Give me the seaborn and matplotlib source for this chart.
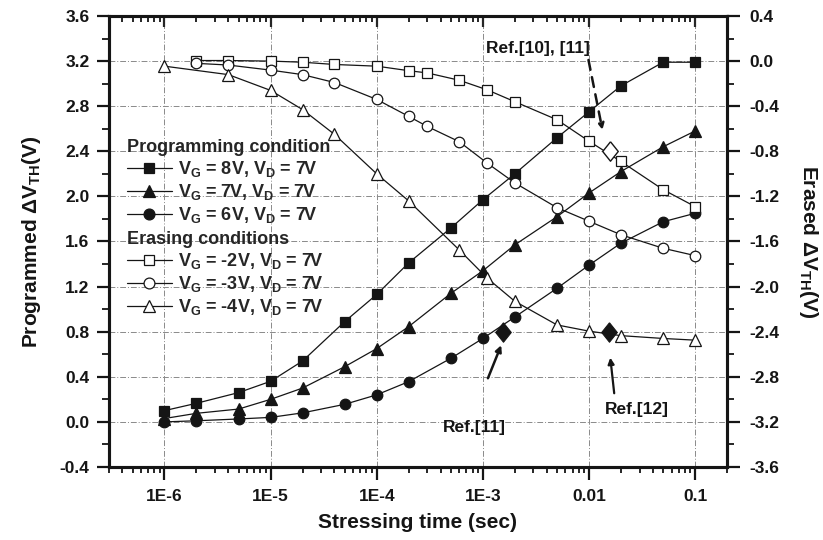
import numpy as np
import pandas as pd
import matplotlib
matplotlib.use("Agg")
import matplotlib.pyplot as plt
from matplotlib.lines import Line2D
from matplotlib.ticker import FixedLocator, LogLocator, MultipleLocator, FormatStrFormatter, NullFormatter
import seaborn as sns

# ---- data -------------------------------------------------------------
t_prog = [1e-6, 2e-6, 5e-6, 1e-5, 2e-5, 5e-5, 1e-4, 2e-4, 5e-4,
          1e-3, 2e-3, 5e-3, 1e-2, 2e-2, 5e-2, 1e-1]
prog_vg8 = [0.10, 0.165, 0.26, 0.36, 0.54, 0.89, 1.13, 1.41, 1.72,
            1.97, 2.20, 2.52, 2.75, 2.98, 3.19, 3.19]
prog_vg7 = [0.03, 0.076, 0.114, 0.20, 0.30, 0.49, 0.65, 0.845, 1.14,
            1.34, 1.57, 1.82, 2.03, 2.22, 2.44, 2.58]
prog_vg6 = [0.0, 0.01, 0.026, 0.04, 0.08, 0.156, 0.24, 0.357, 0.564,
            0.74, 0.93, 1.185, 1.39, 1.585, 1.775, 1.85]

t_erase = [2e-6, 4e-6, 1e-5, 2e-5, 4e-5, 1e-4, 2e-4, 3e-4, 6e-4,
           1.1e-3, 2e-3, 5e-3, 1e-2, 2e-2, 5e-2, 1e-1]
erase_vgm2 = [0.005, 0.005, 0.0, -0.01, -0.03, -0.045, -0.085, -0.105, -0.17,
              -0.255, -0.36, -0.52, -0.71, -0.89, -1.14, -1.29]
erase_vgm3 = [-0.02, -0.035, -0.08, -0.12, -0.19, -0.34, -0.49, -0.58, -0.715,
              -0.905, -1.08, -1.30, -1.42, -1.54, -1.66, -1.725]

t_erase4 = [1e-6, 4e-6, 1e-5, 2e-5, 4e-5, 1e-4, 2e-4, 6e-4,
            1.1e-3, 2e-3, 5e-3, 1e-2, 2e-2, 5e-2, 1e-1]
erase_vgm4 = [-0.045, -0.12, -0.26, -0.43, -0.65, -1.0, -1.24, -1.675,
              -1.925, -2.13, -2.34, -2.395, -2.435, -2.46, -2.475]

# literature reference points
ref_prog_t = [1.55e-3, 0.0156]      # Ref.[11], Ref.[12] (programmed)
ref_prog_v = [0.8, 0.8]
ref_erase_t = [0.0159]              # Ref.[10], [11] (erased)
ref_erase_v = [-0.8]

x_ticks = [1e-6, 1e-5, 1e-4, 1e-3, 1e-2, 1e-1]
x_tick_labels = ["1E-6", "1E-5", "1E-4", "1E-3", "0.01", "0.1"]

prog_labels = ["V$_{G}$ = 8V, V$_{D}$ = 7V",
               "V$_{G}$ = 7V, V$_{D}$ = 7V",
               "V$_{G}$ = 6V, V$_{D}$ = 7V"]
erase_labels = ["V$_{G}$ = -2V, V$_{D}$ = 7V",
                "V$_{G}$ = -3V, V$_{D}$ = 7V",
                "V$_{G}$ = -4V, V$_{D}$ = 7V"]

# ---- style --------------------------------------------------------------
sns.set_style("white")
plt.rcParams["font.family"] = ["Liberation Sans", "DejaVu Sans"]
plt.rcParams["font.weight"] = "bold"
plt.rcParams["axes.unicode_minus"] = False
plt.rcParams["mathtext.fontset"] = "custom"
plt.rcParams["mathtext.rm"] = "Liberation Sans:bold"
plt.rcParams["mathtext.bf"] = "Liberation Sans:bold"
plt.rcParams["mathtext.it"] = "Liberation Sans:bold"
plt.rcParams["mathtext.default"] = "bf"

INK = "#151515"
LINE_W = 0.9
EDGE_W = 0.9

fig = plt.figure(figsize=(8.23, 5.40), dpi=100)
ax = fig.add_axes([0.13244, 0.13519, 0.75091, 0.83519])
ax.set_xscale("log")
ax2 = ax.twinx()

def series(axis, x, y, marker, filled, ms):
    sns.lineplot(x=x, y=y, ax=axis, color=INK, lw=LINE_W, marker=marker,
                 markersize=ms, markeredgecolor=INK, markeredgewidth=EDGE_W,
                 markerfacecolor=INK if filled else "white",
                 legend=False, estimator=None, sort=False, zorder=3)

series(ax, t_prog, prog_vg8, "s", True, 6.8)
series(ax, t_prog, prog_vg7, "^", True, 8.5)
series(ax, t_prog, prog_vg6, "o", True, 7.6)
series(ax2, t_erase, erase_vgm2, "s", False, 6.8)
series(ax2, t_erase, erase_vgm3, "o", False, 7.6)
series(ax2, t_erase4, erase_vgm4, "^", False, 8.5)

diamond = [(0, 1), (0.8, 0), (0, -1), (-0.8, 0), (0, 1)]
sns.scatterplot(x=ref_prog_t, y=ref_prog_v, ax=ax, marker=diamond, s=14**2,
                color=INK, edgecolor=INK, linewidth=0.8, zorder=5)
sns.scatterplot(x=ref_erase_t, y=ref_erase_v, ax=ax2, marker=diamond, s=14**2,
                facecolor="white", edgecolor=INK, linewidth=1.0, zorder=5)

# ---- axes limits and ticks ---------------------------------------------
ax.set_xlim(3e-7, 0.2)
ax.set_ylim(-0.4, 3.6)
ax2.set_ylim(-3.6, 0.4)

ax.xaxis.set_major_locator(FixedLocator(x_ticks))
ax.set_xticklabels(x_tick_labels)
ax.xaxis.set_minor_locator(LogLocator(base=10, subs=np.arange(2, 10), numticks=100))
ax.xaxis.set_minor_formatter(NullFormatter())

ax.yaxis.set_major_locator(MultipleLocator(0.4))
ax.yaxis.set_minor_locator(MultipleLocator(0.2))
ax.yaxis.set_major_formatter(FormatStrFormatter("%.1f"))
ax2.yaxis.set_major_locator(MultipleLocator(0.4))
ax2.yaxis.set_minor_locator(MultipleLocator(0.2))
ax2.yaxis.set_major_formatter(FormatStrFormatter("%.1f"))

tick_font = 12.5
ax.xaxis.set_ticks_position("bottom")
ax.tick_params(axis="x", which="major", direction="out", length=9, width=1.6,
               labelsize=tick_font, pad=7, colors=INK)
ax.tick_params(axis="x", which="minor", direction="out", length=4.5, width=1.4)
ax.tick_params(axis="y", which="major", direction="out", length=9, width=1.6,
               labelsize=tick_font, pad=5, left=True, right=False, colors=INK)
ax.tick_params(axis="y", which="minor", direction="out", length=5, width=1.4,
               left=True, right=False)
ax2.tick_params(axis="y", which="major", direction="out", length=9, width=1.6,
                labelsize=tick_font, pad=7, colors=INK)
ax2.tick_params(axis="y", which="minor", direction="out", length=5, width=1.4)

# inward ticks along the top edge
ax2.xaxis.set_visible(True)
ax2.xaxis.set_ticks_position("top")
ax2.tick_params(axis="x", which="major", direction="in", length=8, width=1.6,
                labeltop=False, labelbottom=False)
ax2.tick_params(axis="x", which="minor", direction="in", length=4.5, width=1.4,
                labeltop=False, labelbottom=False)

for a in (ax, ax2):
    for sp in a.spines.values():
        sp.set_linewidth(2.2)
        sp.set_color(INK)

ax.grid(True, which="major", axis="both", linestyle=(0, (6, 2, 1, 2)),
        color="#8a8a8a", linewidth=0.7)
ax.set_axisbelow(True)

ax.set_xlabel("Stressing time (sec)", fontsize=15, fontweight="bold",
              labelpad=6, color=INK)
ax.set_ylabel("Programmed ΔV$_{TH}$(V)", fontsize=15, fontweight="bold",
              labelpad=12, color=INK)
ax2.set_ylabel("Erased ΔV$_{TH}$(V)", fontsize=15, fontweight="bold",
               rotation=270, va="bottom", labelpad=13, color=INK)

# ---- reference annotations ---------------------------------------------
ax.annotate("", xy=(0.0134, 2.59), xytext=(0.0099, 3.21),
            arrowprops=dict(arrowstyle="-|>", color=INK, lw=1.8,
                            linestyle=(0, (4, 3)), mutation_scale=9,
                            shrinkA=0, shrinkB=0), zorder=6)
ax.text(0.0102, 3.316, "Ref.[10], [11]", ha="right", va="center",
        fontsize=12.5, fontweight="bold", color=INK)

ax.annotate("", xy=(1.49e-3, 0.68), xytext=(1.117e-3, 0.387),
            arrowprops=dict(arrowstyle="-|>", color=INK, lw=1.8,
                            mutation_scale=9, shrinkA=0, shrinkB=0), zorder=6)
ax.text(8.4e-4, -0.054, "Ref.[11]", ha="center", va="center",
        fontsize=12.5, fontweight="bold", color=INK)

ax.annotate("", xy=(0.0159, 0.57), xytext=(0.0173, 0.254),
            arrowprops=dict(arrowstyle="-|>", color=INK, lw=1.6,
                            mutation_scale=9, shrinkA=0, shrinkB=0), zorder=6)
ax.text(0.0282, 0.114, "Ref.[12]", ha="center", va="center",
        fontsize=12.5, fontweight="bold", color=INK)

# ---- legends ------------------------------------------------------------
def handle(marker, filled, ms):
    return Line2D([], [], color=INK, lw=LINE_W, marker=marker, markersize=ms,
                  markeredgecolor=INK, markeredgewidth=EDGE_W,
                  markerfacecolor=INK if filled else "white")

prog_handles = [handle("s", True, 7.2), handle("^", True, 8.5), handle("o", True, 7.8)]
erase_handles = [handle("s", False, 7.2), handle("o", False, 7.8), handle("^", False, 8.5)]

leg_kw = dict(loc="upper left", frameon=False, fontsize=13, title_fontsize=13,
              handlelength=2.5, handletextpad=0.35, labelspacing=0.18,
              borderpad=0, borderaxespad=0, alignment="left")
leg1 = ax2.legend(prog_handles, prog_labels, title="Programming condition",
                  bbox_to_anchor=(0.0286, 0.728), **leg_kw)
leg1.get_title().set_fontweight("bold")
ax2.add_artist(leg1)
leg2 = ax2.legend(erase_handles, erase_labels, title="Erasing conditions",
                  bbox_to_anchor=(0.0286, 0.524), **leg_kw)
leg2.get_title().set_fontweight("bold")

fig.savefig("out.png", dpi=100)
